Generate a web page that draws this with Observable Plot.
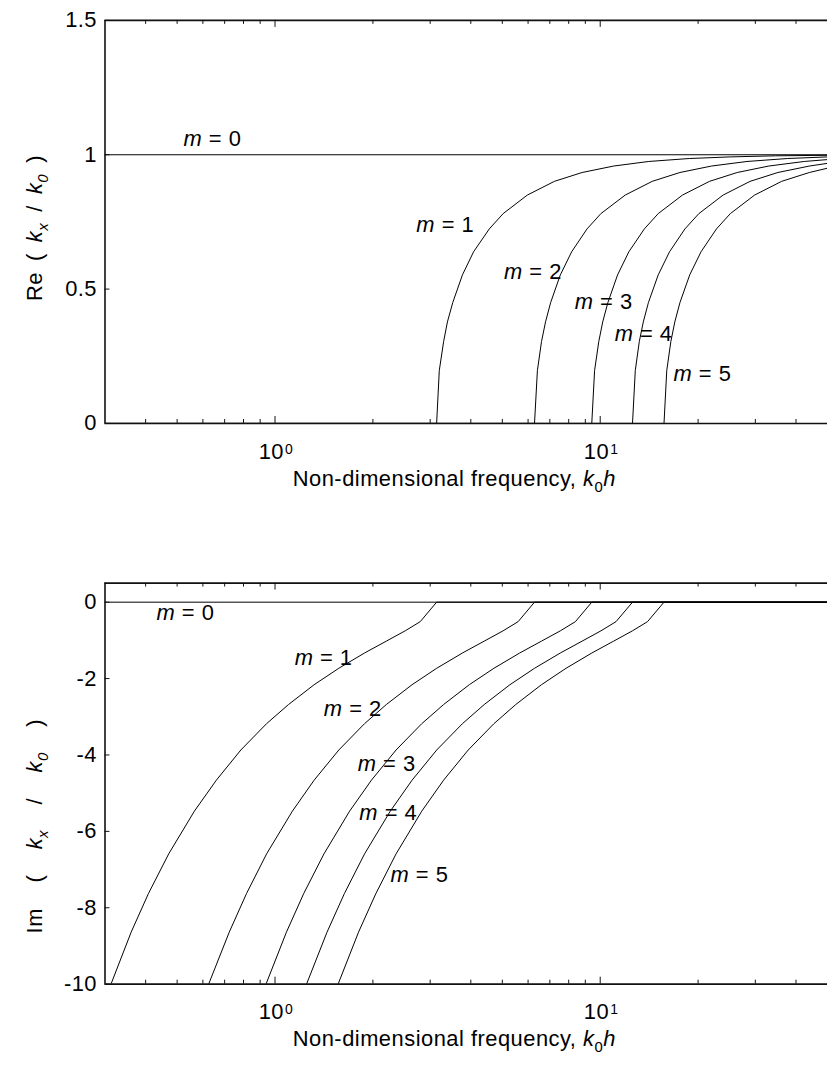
<!DOCTYPE html>
<html>
<head>
<meta charset="utf-8">
<script src="https://cdn.jsdelivr.net/npm/d3@7"></script>
<script src="https://cdn.jsdelivr.net/npm/@observablehq/plot@0.6"></script>
<style>
  body { margin: 0; background: #fff; }
  #page { width: 828px; height: 1070px; overflow: hidden; position: relative; background: #fff; }
  #page svg { display: block; }
</style>
</head>
<body>
<div id="page"></div>
<script>
// Axial wavenumber of the duct modes m = 0..5 against non-dimensional frequency k0h.
// Propagating part (upper panel) and evanescent part (lower panel).

const khDomain = [0.3, 50];
const minorTicks = [0.4, 0.5, 0.6, 0.7, 0.8, 0.9, 2, 3, 4, 5, 6, 7, 8, 9, 20, 30, 40];
const decades = [1, 10];
const decadeExponents = ["0", "1"];

const reTicks = [0, 0.5, 1, 1.5];
const imTicks = [0, -2, -4, -6, -8, -10];

// m = 0 is the plane wave: kx/k0 = 1 everywhere, no decay
const kh0 = [0.3, 50];
const re0 = [1, 1];
const im0 = [0, 0];

// Real part, m = 1..5 (zero below cut-on, then rising towards 1)
const reKh1 = [0.3, 3.14, 3.20, 3.30, 3.39, 3.52, 3.77, 4.08, 4.56, 5.03, 5.97, 7.23, 8.80, 11.0, 14.1, 18.8, 25.1, 34.6, 50];
const reVal1 = [0, 0, 0.197, 0.305, 0.378, 0.450, 0.553, 0.639, 0.724, 0.781, 0.850, 0.901, 0.934, 0.958, 0.975, 0.986, 0.992, 0.996, 0.998];
const reKh2 = [0.3, 6.28, 6.41, 6.60, 6.79, 7.04, 7.54, 8.17, 9.11, 10.05, 11.94, 14.45, 17.59, 21.99, 28.27, 37.70, 50];
const reVal2 = [0, 0, 0.197, 0.305, 0.378, 0.450, 0.553, 0.639, 0.724, 0.781, 0.850, 0.901, 0.934, 0.958, 0.975, 0.986, 0.992];
const reKh3 = [0.3, 9.42, 9.61, 9.90, 10.18, 10.56, 11.31, 12.25, 13.67, 15.08, 17.91, 21.68, 26.39, 32.99, 42.41, 50];
const reVal3 = [0, 0, 0.197, 0.305, 0.378, 0.450, 0.553, 0.639, 0.724, 0.781, 0.850, 0.901, 0.934, 0.958, 0.975, 0.982];
const reKh4 = [0.3, 12.57, 12.82, 13.19, 13.57, 14.07, 15.08, 16.34, 18.22, 20.11, 23.88, 28.90, 35.19, 43.98, 50];
const reVal4 = [0, 0, 0.197, 0.305, 0.378, 0.450, 0.553, 0.639, 0.724, 0.781, 0.850, 0.901, 0.934, 0.958, 0.968];
const reKh5 = [0.3, 15.71, 16.02, 16.49, 16.96, 17.59, 18.85, 20.42, 22.78, 25.13, 29.85, 36.13, 43.98, 50];
const reVal5 = [0, 0, 0.197, 0.305, 0.378, 0.450, 0.553, 0.639, 0.724, 0.781, 0.850, 0.901, 0.934, 0.950];

// Imaginary part, m = 1..5 (decay below cut-on, zero above it)
const imKh1 = [0.313, 0.361, 0.408, 0.471, 0.565, 0.660, 0.785, 0.942, 1.100, 1.319, 1.571, 1.885, 2.199, 2.513, 2.796, 3.14, 50];
const imVal1 = [-10, -8.64, -7.63, -6.59, -5.47, -4.66, -3.87, -3.18, -2.68, -2.16, -1.73, -1.33, -1.02, -0.75, -0.51, 0, 0];
const imKh2 = [0.625, 0.723, 0.817, 0.942, 1.131, 1.319, 1.571, 1.885, 2.199, 2.639, 3.142, 3.770, 4.398, 5.027, 5.592, 6.28, 50];
const imVal2 = [-10, -8.64, -7.63, -6.59, -5.47, -4.66, -3.87, -3.18, -2.68, -2.16, -1.73, -1.33, -1.02, -0.75, -0.51, 0, 0];
const imKh3 = [0.938, 1.084, 1.225, 1.414, 1.696, 1.979, 2.356, 2.827, 3.299, 3.958, 4.712, 5.655, 6.597, 7.540, 8.388, 9.42, 50];
const imVal3 = [-10, -8.64, -7.63, -6.59, -5.47, -4.66, -3.87, -3.18, -2.68, -2.16, -1.73, -1.33, -1.02, -0.75, -0.51, 0, 0];
const imKh4 = [1.250, 1.445, 1.634, 1.885, 2.262, 2.639, 3.142, 3.770, 4.398, 5.278, 6.283, 7.540, 8.796, 10.053, 11.184, 12.57, 50];
const imVal4 = [-10, -8.64, -7.63, -6.59, -5.47, -4.66, -3.87, -3.18, -2.68, -2.16, -1.73, -1.33, -1.02, -0.75, -0.51, 0, 0];
const imKh5 = [1.563, 1.806, 2.042, 2.356, 2.827, 3.299, 3.927, 4.712, 5.498, 6.597, 7.854, 9.425, 10.996, 12.566, 13.980, 15.71, 50];
const imVal5 = [-10, -8.64, -7.63, -6.59, -5.47, -4.66, -3.87, -3.18, -2.68, -2.16, -1.73, -1.33, -1.02, -0.75, -0.51, 0, 0];

// Mode labels: text, anchor k0h, anchor value (left end of the label's baseline)
const modeNames = ["m = 0", "m = 1", "m = 2", "m = 3", "m = 4", "m = 5"];
const reLabelKh = [0.523, 2.72, 5.06, 8.35, 11.08, 16.8];
const reLabelVal = [1.033, 0.713, 0.538, 0.426, 0.307, 0.158];
const imLabelKh = [0.432, 1.149, 1.413, 1.796, 1.817, 2.266];
const imLabelVal = [-0.473, -1.644, -2.978, -4.408, -5.709, -7.321];

const xTitle = "Non-dimensional frequency, k0h";
const reTitle = "Re ( kx / k0 )";
const imTitle = "Im ( kx / k0 )";

// ---------------------------------------------------------------------------

const FONT = '"Liberation Sans", Arial, Helvetica, sans-serif';
const WIDTH = 832, ML = 105, MR = 1;
const PW = WIDTH - ML - MR;

const rows = (kh, val, m) => kh.map((x, i) => ({kh: x, v: val[i], m}));
const reCurves = [
  ...rows(kh0, re0, 0), ...rows(reKh1, reVal1, 1), ...rows(reKh2, reVal2, 2),
  ...rows(reKh3, reVal3, 3), ...rows(reKh4, reVal4, 4), ...rows(reKh5, reVal5, 5)
];
const imCurves = [
  ...rows(kh0, im0, 0), ...rows(imKh1, imVal1, 1), ...rows(imKh2, imVal2, 2),
  ...rows(imKh3, imVal3, 3), ...rows(imKh4, imVal4, 4), ...rows(imKh5, imVal5, 5)
];
const reLabels = modeNames.map((t, i) => ({t, kh: reLabelKh[i], v: reLabelVal[i]}));
const imLabels = modeNames.map((t, i) => ({t, kh: imLabelKh[i], v: imLabelVal[i]}));
const decadeRows = decades.map((d, i) => ({d, e: decadeExponents[i]}));

function panel({height, marginTop, marginBottom, yDomain, yTicks, curves, labels, title, titleDy}) {
  const PH = height - marginTop - marginBottom;
  const frame = {stroke: "#111", strokeWidth: 1.6};
  return Plot.plot({
    width: WIDTH, height, marginLeft: ML, marginRight: MR, marginTop, marginBottom,
    x: {type: "log", domain: khDomain, axis: null},
    y: {domain: yDomain},
    style: {fontFamily: FONT, fontSize: "22px", color: "#000", background: "#fff", letterSpacing: "0.5px", overflow: "visible"},
    marks: [
      Plot.line(curves, {x: "kh", y: "v", z: "m", stroke: "#000", strokeWidth: 1, clip: true}),
      // inward ticks, bottom and top edges
      Plot.ruleX(minorTicks, {x: d => d, insetTop: PH - 4, stroke: "#111"}),
      Plot.ruleX(minorTicks, {x: d => d, insetBottom: PH - 4, stroke: "#111"}),
      Plot.ruleX(decades, {x: d => d, insetTop: PH - 7, stroke: "#111"}),
      Plot.ruleX(decades, {x: d => d, insetBottom: PH - 7, stroke: "#111"}),
      Plot.ruleY(yTicks, {y: d => d, insetRight: PW - 5, stroke: "#111"}),
      // axes box
      Plot.ruleY([yDomain[1]], frame),
      Plot.ruleY([yDomain[0]], frame),
      Plot.ruleX([khDomain[0]], frame),
      Plot.axisY({ticks: yTicks, tickSize: 0, tickPadding: 8, tickFormat: d => String(d), label: null, fontSize: 22}),
      // decade labels 10^n
      Plot.text(decadeRows, {x: "d", frameAnchor: "bottom", text: () => "10", textAnchor: "end", lineAnchor: "bottom", dx: 9, dy: 35.5, fontSize: 22}),
      Plot.text(decadeRows, {x: "d", frameAnchor: "bottom", text: "e", textAnchor: "start", lineAnchor: "bottom", dx: 10, dy: 30.5, fontSize: 14}),
      Plot.text([xTitle], {frameAnchor: "bottom", text: d => d, textAnchor: "middle", lineAnchor: "bottom", dx: -12, dy: 62.5, fontSize: 22}),
      Plot.text([title], {frameAnchor: "bottom-left", text: d => d, rotate: -90, textAnchor: "start", lineAnchor: "bottom", dx: -63, dy: titleDy, fontSize: 22}),
      Plot.text(labels, {x: "kh", y: "v", text: "t", textAnchor: "start", lineAnchor: "bottom", fontSize: 22})
    ]
  });
}

// Rich text: italic symbols, sub/superscripts
const rich = {
  [xTitle]: {html: 'Non-dimensional frequency, <tspan font-style="italic">k</tspan><tspan font-size="15" dy="6">0</tspan><tspan font-style="italic" dy="-6">h</tspan>', ws: 0},
  [reTitle]: {html: 'Re ( <tspan font-style="italic">k</tspan><tspan font-style="italic" font-size="15" dy="6">x</tspan><tspan dy="-6"> / </tspan><tspan font-style="italic">k</tspan><tspan font-style="italic" font-size="15" dy="6">0</tspan><tspan dy="-6"> )</tspan>', ws: 4.5},
  [imTitle]: {html: 'Im ( <tspan font-style="italic">k</tspan><tspan font-style="italic" font-size="15" dy="6">x</tspan><tspan dy="-6"> / </tspan><tspan font-style="italic">k</tspan><tspan font-style="italic" font-size="15" dy="6">0</tspan><tspan dy="-6"> )</tspan>', ws: 19}
};

function enrich(svg) {
  svg.querySelectorAll("text").forEach(t => {
    const s = t.textContent;
    if (/^m = \d$/.test(s)) {
      t.innerHTML = `<tspan font-style="italic">m</tspan> = ${s.slice(4)}`;
    } else if (rich[s]) {
      t.innerHTML = rich[s].html;
      t.style.whiteSpace = "pre";
      if (rich[s].ws) t.style.wordSpacing = rich[s].ws + "px";
    }
  });
  return svg;
}

const page = document.getElementById("page");

const rePanel = enrich(panel({
  height: 500, marginTop: 20, marginBottom: 75,
  yDomain: [0, 1.5], yTicks: reTicks, curves: reCurves, labels: reLabels,
  title: reTitle, titleDy: -123
}));

const imPanel = enrich(panel({
  height: 570, marginTop: 85, marginBottom: 82,
  yDomain: [-10, 0.5], yTicks: imTicks, curves: imCurves, labels: imLabels,
  title: imTitle, titleDy: -51
}));

page.appendChild(rePanel);
page.appendChild(imPanel);
</script>
</body>
</html>
